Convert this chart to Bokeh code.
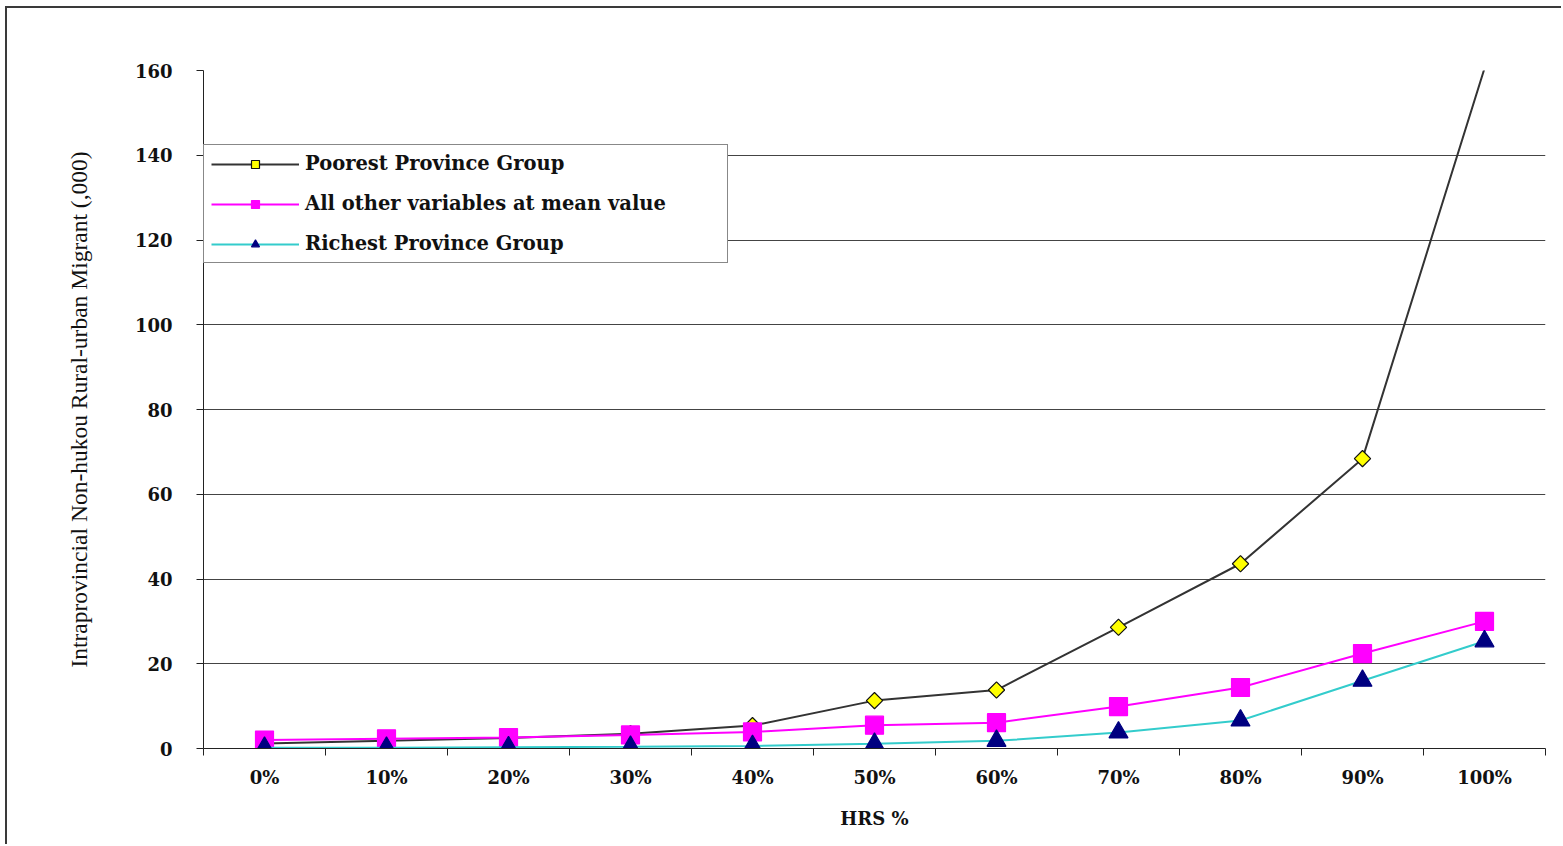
import numpy as np
from bokeh.plotting import figure
from bokeh.models import FixedTicker, Legend, LegendItem, ColumnDataSource, Range1d
from bokeh.embed import file_html
from bokeh.resources import INLINE

categories = ["0%", "10%", "20%", "30%", "40%", "50%", "60%", "70%", "80%", "90%", "100%"]
poorest = [1.2, 1.8, 2.5, 3.5, 5.4, 11.3, 13.8, 28.6, 43.6, 68.4, 160.5]
mean_value = [2.0, 2.3, 2.6, 3.2, 3.9, 5.5, 6.1, 9.9, 14.4, 22.4, 30.0]
richest = [0.2, 0.2, 0.3, 0.4, 0.6, 1.1, 1.8, 3.8, 6.6, 16.0, 25.3]
y_ticks = [0, 20, 40, 60, 80, 100, 120, 140, 160]
series_names = ["Poorest Province Group", "All other variables at mean value", "Richest Province Group"]

Y_MAX = y_ticks[-1]
x_centers = [i + 0.5 for i in range(len(categories))]

# canvas offset by a 5/6px margin plus a 2px left/top border (the chart's outer frame)
OX, OY = 7, 8
p = figure(width=1563 - OX, height=846 - OY, output_backend="svg", toolbar_location=None,
           x_range=Range1d(0, len(categories)), y_range=Range1d(0, Y_MAX),
           min_border_left=203 - OX, min_border_top=70 - OY, min_border_right=18, min_border_bottom=98)
p.styles = {"margin-left": "5px", "margin-top": "6px",
            "border-left": "2px solid #3a3a3a", "border-top": "2px solid #3a3a3a"}
p.outline_line_color = None
p.background_fill_color = "white"
p.border_fill_color = "white"

TF = "DejaVu Serif"

# x axis
p.xaxis.ticker = FixedTicker(ticks=x_centers, minor_ticks=list(range(len(categories) + 1)))
p.xaxis.major_label_overrides = {c: lab for c, lab in zip(x_centers, categories)}
p.xaxis.major_tick_out = 0
p.xaxis.major_tick_in = 0
p.xaxis.minor_tick_out = 7
p.xaxis.minor_tick_in = 0
p.xaxis.minor_tick_line_color = "#222222"
p.xaxis.axis_line_color = "#222222"
p.xaxis.major_label_text_font = TF
p.xaxis.major_label_text_font_style = "bold"
p.xaxis.major_label_text_font_size = "18px"
p.xaxis.major_label_text_color = "#111111"
p.xaxis.major_label_standoff = 11
p.xaxis.axis_label = "HRS %"
p.xaxis.axis_label_text_font = TF
p.xaxis.axis_label_text_font_style = "bold"
p.xaxis.axis_label_text_font_size = "18px"
p.xaxis.axis_label_text_color = "#111111"
p.xaxis.axis_label_standoff = 17

# y axis
p.yaxis.ticker = FixedTicker(ticks=y_ticks)
p.yaxis.minor_tick_line_color = None
p.yaxis.major_tick_out = 7
p.yaxis.major_tick_in = 0
p.yaxis.major_tick_line_color = "#222222"
p.yaxis.axis_line_color = "#222222"
p.yaxis.major_label_text_font = TF
p.yaxis.major_label_text_font_style = "bold"
p.yaxis.major_label_text_font_size = "18px"
p.yaxis.major_label_text_color = "#111111"
p.yaxis.major_label_standoff = 24
p.yaxis.axis_label = "Intraprovincial Non-hukou Rural-urban Migrant (,000)"
p.yaxis.axis_label_text_font = "Liberation Serif"
p.yaxis.axis_label_text_font_style = "normal"
p.yaxis.axis_label_text_font_size = "23.5px"
p.yaxis.axis_label_text_color = "#111111"
p.yaxis.axis_label_standoff = 40

p.xgrid.grid_line_color = None
p.ygrid.ticker = FixedTicker(ticks=y_ticks[1:-1])
p.ygrid.grid_line_color = "#444444"
p.ygrid.grid_line_width = 1.2

styles = [
    dict(line="#333333", marker="square", angle=np.pi / 4, size=11.5, fill="#FFFF00", mline="#111111"),
    dict(line="#FF00FF", marker="square", angle=0, size=18, fill="#FF00FF", mline="#FF00FF"),
    dict(line="#33CCCC", marker="triangle", angle=0, size=19, fill="#000080", mline="#000080"),
]

items = []
for name, vals, st in zip(series_names, [poorest, mean_value, richest], styles):
    src = ColumnDataSource(dict(x=x_centers, y=vals))
    mask = [v <= Y_MAX for v in vals]
    msrc = ColumnDataSource(dict(x=[x for x, m in zip(x_centers, mask) if m],
                                 y=[v for v, m in zip(vals, mask) if m]))
    ln = p.line("x", "y", source=src, line_color=st["line"], line_width=2)
    sc = p.scatter("x", "y", source=msrc, marker=st["marker"], angle=st["angle"], size=st["size"],
                   fill_color=st["fill"], line_color=st["mline"], line_width=1.2)
    items.append(LegendItem(label=name, renderers=[ln, sc]))

legend = Legend(items=items, location=(0, 485), margin=0, padding=7, spacing=17,
                glyph_width=88, glyph_height=20, label_standoff=6, label_width=415,
                label_text_font=TF, label_text_font_style="bold", label_text_font_size="19.5px",
                label_text_color="#111111", border_line_color="#111111", border_line_width=1,
                background_fill_color="white", background_fill_alpha=1.0)
p.add_layout(legend, "center")

open("out.html", "w").write(file_html(p, INLINE))
